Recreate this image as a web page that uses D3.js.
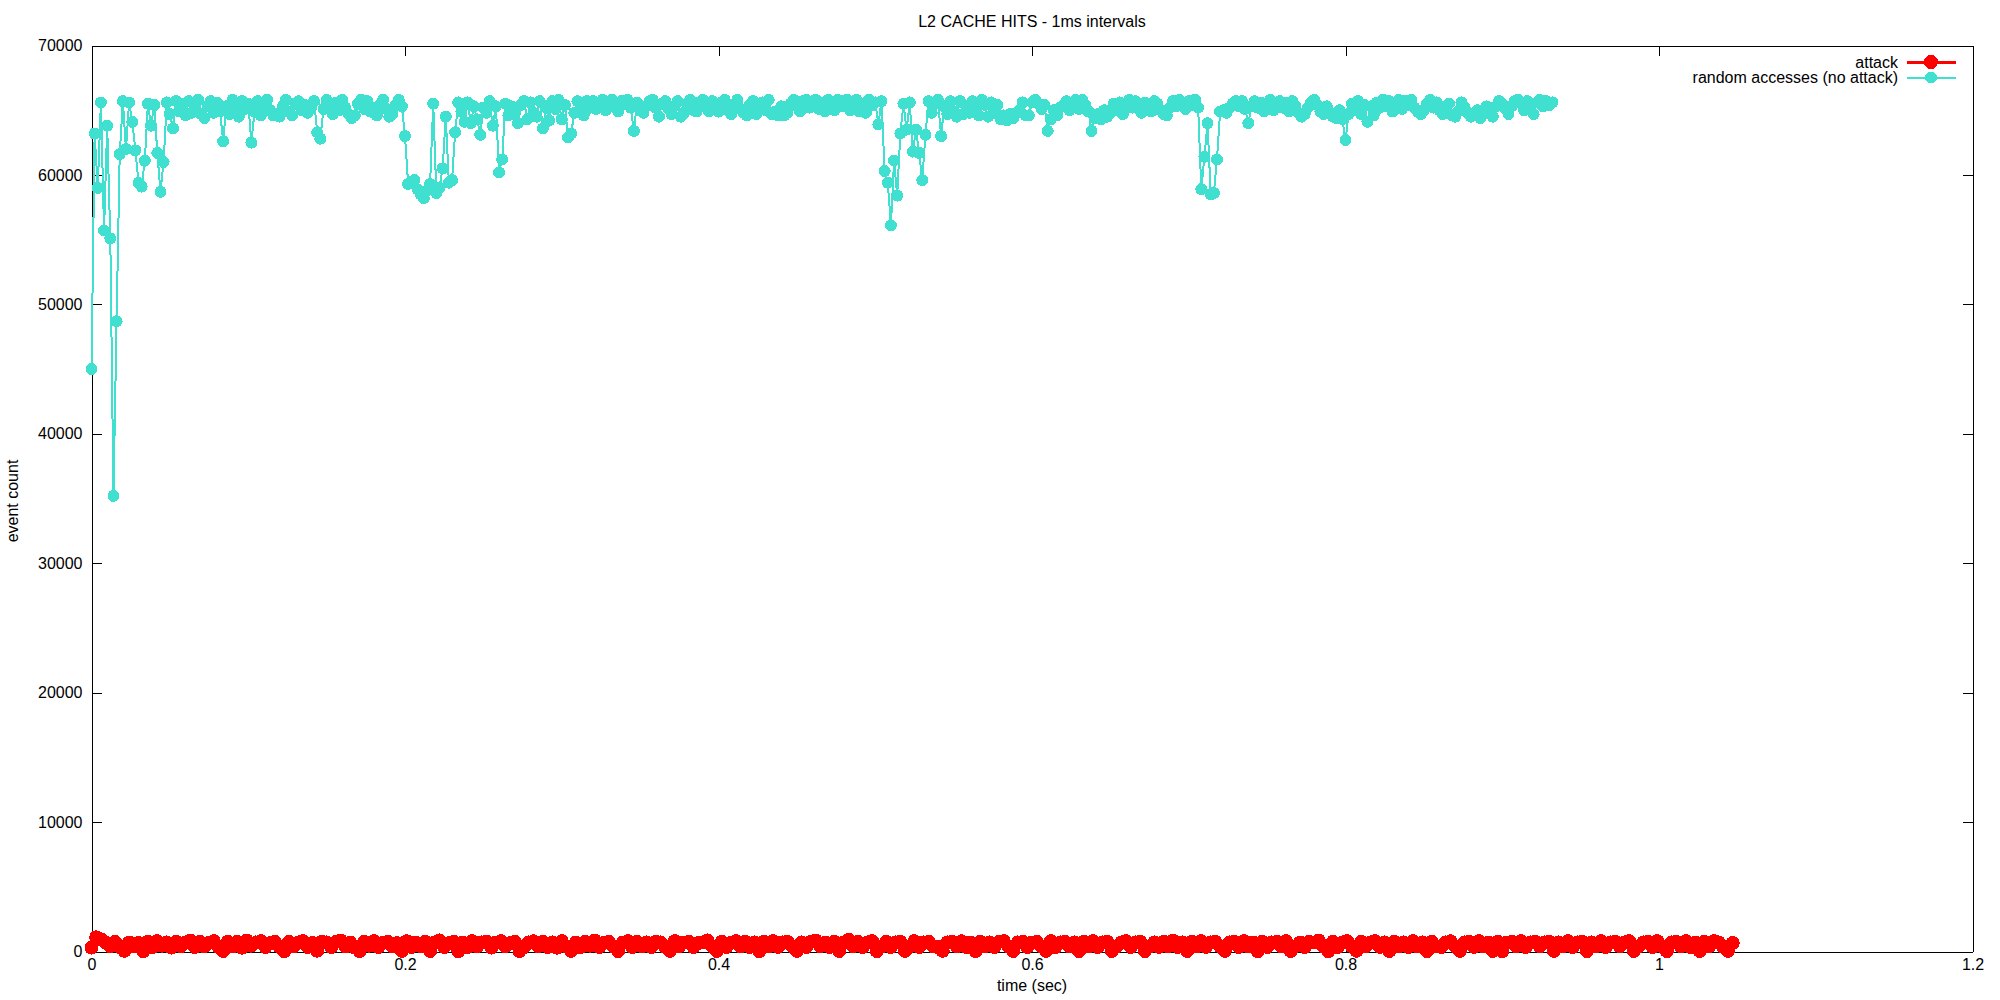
<!DOCTYPE html>
<html>
<head>
<meta charset="utf-8">
<script src="https://cdn.jsdelivr.net/npm/d3@7"></script>
<style>
  html, body { margin: 0; padding: 0; background: #fff; }
  svg { display: block; }
  text { font-family: "Liberation Sans", Arial, sans-serif; fill: #000; }
</style>
</head>
<body>
<svg id="chart" width="2000" height="1000"></svg>
<script>
// ---- data ----
const chartTitle = "L2 CACHE HITS - 1ms intervals";
const xLabel = "time (sec)";
const yLabel = "event count";
const seriesNames = ["attack", "random accesses (no attack)"];
const seriesColors = ["#ff0000", "#40e0d0"];
const xTicks = [0, 0.2, 0.4, 0.6, 0.8, 1, 1.2];
const xTickLabels = ["0", "0.2", "0.4", "0.6", "0.8", "1", "1.2"];
const yTicks = [0, 10000, 20000, 30000, 40000, 50000, 60000, 70000];
const yTickLabels = ["0", "10000", "20000", "30000", "40000", "50000", "60000", "70000"];

// sample spacing (seconds) of each series
const attackStep = 0.003;
const randomStep = 0.002;

// attack series: event count per sample
const attackValues = [
300,1100,950,700,400,750,350,50,700,400,
650,30,750,350,800,450,700,300,750,400,
700,850,350,750,400,700,800,350,40,750,
400,750,300,850,450,700,800,350,650,750,
350,20,750,400,700,800,350,650,60,750,
700,350,750,850,400,700,300,30,750,450,
800,350,700,750,400,650,50,800,350,700,
400,750,40,700,850,350,650,750,30,700,
350,800,400,700,750,300,700,800,400,650,
750,40,350,700,800,400,750,350,700,300,
800,400,50,700,350,750,450,850,350,700,
750,400,30,700,800,350,750,400,700,350,
750,700,350,50,800,400,700,750,350,650,
700,850,400,40,750,350,700,800,400,750,
350,700,30,750,400,800,350,700,750,400,
50,700,350,750,850,400,700,350,750,40,
700,900,400,750,350,700,800,30,400,750,
350,700,750,40,400,800,350,700,750,400,
350,50,700,750,400,800,350,700,30,750,
400,700,350,750,800,400,40,700,750,350,
700,750,400,50,800,350,700,750,400,700,
30,750,400,800,350,700,750,40,400,700,
800,350,700,750,30,400,700,350,750,400,
850,350,700,40,750,400,800,350,700,750,
400,50,700,750,350,800,400,700,30,750,
350,700,750,400,800,40,400,700,350,750,
700,850,400,30,750,350,700,800,400,50,
750,400,700,800,350,700,40,750,400,700,
350,800,400,700,30,750,400,350,700,800,
400,50,700,750,350,800,400,700,40,750,
30,700,750,400,800,350,700,750,400,700,
750,40,700,400,800,350,700,750,30,700,
400,800,350,700,750,400,700,800,40,400,
700,750,350,800,400,30,700,750,400,800,
350,700,40,750,400,800,700,350,40,650
];

// random accesses (no attack) series: event count per sample
const randomValues = [
45000,63200,59000,65600,55700,63800,55100,35200,48700,61600,
65700,62000,65600,64100,61900,59400,59100,61100,65500,63800,
65400,61700,58700,61000,65600,64700,63600,65700,64900,65500,
64600,65700,64800,65200,65800,64700,64400,65300,65700,64800,
65600,64900,62600,65300,64700,65800,65000,64500,65700,65100,
65500,62500,64900,65700,64600,65300,65800,65000,64600,64700,
64500,65300,65800,64900,64600,65500,65700,65000,65400,64800,
65200,65700,63300,62800,65100,65800,65300,64700,65600,65000,
65800,65200,64700,64400,64600,65500,65800,65100,65700,64900,
65200,64600,65400,65800,65100,64500,64700,65400,65800,65300,
63000,59300,59500,59600,58900,58500,58200,58800,59300,65500,
58600,59000,60500,64500,59400,59600,63300,65600,64900,64100,
65600,64000,65300,64300,63100,65200,64800,65700,63800,65300,
60200,61200,65500,64600,65300,64700,64000,65400,65700,64300,
65600,64800,64500,65700,63600,65200,64200,65700,65100,65800,
64300,65400,62900,63200,64800,65700,65300,64600,65700,65200,
65700,65100,65600,65800,65000,65500,65800,65200,64900,65700,
65500,65800,65200,63400,65600,65000,64800,65300,65700,65800,
65200,64500,65500,65700,65100,64700,65300,65700,64500,64800,
65500,65800,65000,64900,65600,65800,65200,64900,65700,65400,
64900,65600,65800,65000,64700,65400,65800,65100,64800,64600,
65400,65700,64700,65100,65600,65000,65800,64700,64900,64600,
65300,64600,64800,65500,65800,65300,64900,65700,65800,65200,
65700,65800,65100,65600,64900,65800,65500,65000,65800,65300,
65700,65800,65000,65600,65800,64900,65500,64800,65800,65400,
65600,63900,65700,60300,59400,56100,61100,58400,63200,65500,
63500,65600,61800,63500,61700,59600,63100,65700,64800,65500,
65800,63000,65300,64700,65700,64900,64500,65700,64700,65300,
64800,65700,65100,64600,65800,65400,64500,65600,64800,65400,
64300,64600,64200,64700,64400,64800,65000,65600,64600,64600,
65600,65800,65500,65100,65400,63400,64300,65000,64600,65200,
65400,65700,65000,65600,65800,65100,65800,65400,64900,63400,
64400,64700,64300,65000,64500,64800,65500,65000,65600,64700,
65400,65800,65200,65700,65100,64800,65600,65300,64900,65700,
65500,65000,64700,64600,65200,65700,65300,65800,65500,65100,
65700,65400,65800,65200,58900,61400,64000,58500,58600,61200,
64900,65000,64800,65200,65500,65700,65300,65700,65100,64000,
65300,65700,65200,65600,64900,65500,65800,65000,65300,65700,
65200,65600,64900,65700,65300,64800,64500,64700,65200,65600,
65800,65400,64900,64700,65300,64800,64500,64400,65000,64300,
62700,64700,65500,65000,65700,64700,65400,64100,65300,64600,
65600,65200,65800,65300,65700,64900,65500,65800,65100,65700,
65400,65800,65200,64900,64700,65000,65500,65800,65200,65600,
65000,64700,65300,65500,64600,64500,64900,65600,65200,64800,
64500,64700,65000,64400,64700,65300,64800,64500,65300,65700,
65500,65100,64700,65300,65700,65800,65500,65000,65700,65400,
64700,65600,65800,65300,65700,65400,65600
];

// ---- drawing ----
const svg = d3.select("#chart");
const plotLeft = 91.5, plotRight = 1972.5, plotTop = 45.5, plotBottom = 951.5;
const x = d3.scaleLinear().domain([0, 1.2]).range([plotLeft, plotRight]);
const y = d3.scaleLinear().domain([0, 70000]).range([plotBottom, plotTop]);
const FONT = '"Liberation Sans", Arial, sans-serif';

function styleAxis(g) {
  g.attr("font-family", FONT).attr("font-size", 16);
  g.selectAll("path, line").attr("stroke", "#000").attr("stroke-width", 1).attr("shape-rendering", "crispEdges");
  g.selectAll("text").attr("fill", "#000");
}

// axes (ticks inward, mirrored)
svg.append("g").attr("transform", `translate(0,${plotBottom})`)
  .call(d3.axisBottom(x).tickValues(xTicks).tickFormat((d, i) => xTickLabels[i]).tickSizeInner(-10).tickSizeOuter(0).tickPadding(7))
  .call(styleAxis);
svg.append("g").attr("transform", `translate(0,${plotTop})`)
  .call(d3.axisTop(x).tickValues(xTicks).tickFormat("").tickSizeInner(-10).tickSizeOuter(0))
  .call(styleAxis);
svg.append("g").attr("transform", `translate(${plotLeft},0)`)
  .call(d3.axisLeft(y).tickValues(yTicks).tickFormat((d, i) => yTickLabels[i]).tickSizeInner(-10).tickSizeOuter(0).tickPadding(9))
  .call(styleAxis);
svg.append("g").attr("transform", `translate(${plotRight},0)`)
  .call(d3.axisRight(y).tickValues(yTicks).tickFormat("").tickSizeInner(-10).tickSizeOuter(0))
  .call(styleAxis);

// series
const series = [
  { name: seriesNames[0], color: seriesColors[0], values: attackValues, step: attackStep, lw: 3, r: 7 },
  { name: seriesNames[1], color: seriesColors[1], values: randomValues, step: randomStep, lw: 2, r: 6 }
];
const line = d3.line().x(d => x(d.t)).y(d => y(d.v));
series.forEach(s => {
  const pts = s.values.map((v, i) => ({ t: i * s.step, v }));
  const g = svg.append("g");
  g.append("path").datum(pts).attr("d", line)
    .attr("fill", "none").attr("stroke", s.color).attr("stroke-width", s.lw)
    .attr("shape-rendering", "crispEdges");
  g.selectAll("circle").data(pts).join("circle")
    .attr("cx", d => x(d.t)).attr("cy", d => y(d.v)).attr("r", s.r)
    .attr("fill", s.color).attr("shape-rendering", "crispEdges");
});

// legend
const legend = svg.append("g");
series.forEach((s, i) => {
  const ly = 62 + i * 15.5;
  legend.append("text").attr("x", 1898).attr("y", ly).attr("dy", "0.35em")
    .attr("text-anchor", "end").attr("font-size", 16).text(s.name);
  legend.append("line").attr("x1", 1907).attr("x2", 1956).attr("y1", ly).attr("y2", ly)
    .attr("stroke", s.color).attr("stroke-width", s.lw).attr("shape-rendering", "crispEdges");
  legend.append("circle").attr("cx", 1931).attr("cy", ly).attr("r", s.r)
    .attr("fill", s.color).attr("shape-rendering", "crispEdges");
});

// titles
svg.append("text").attr("x", (plotLeft + plotRight) / 2).attr("y", 27)
  .attr("text-anchor", "middle").attr("font-size", 16).text(chartTitle);
svg.append("text").attr("x", (plotLeft + plotRight) / 2).attr("y", 991)
  .attr("text-anchor", "middle").attr("font-size", 16).text(xLabel);
svg.append("text").attr("transform", "translate(18,501) rotate(-90)")
  .attr("text-anchor", "middle").attr("font-size", 16).text(yLabel);
</script>
</body>
</html>
